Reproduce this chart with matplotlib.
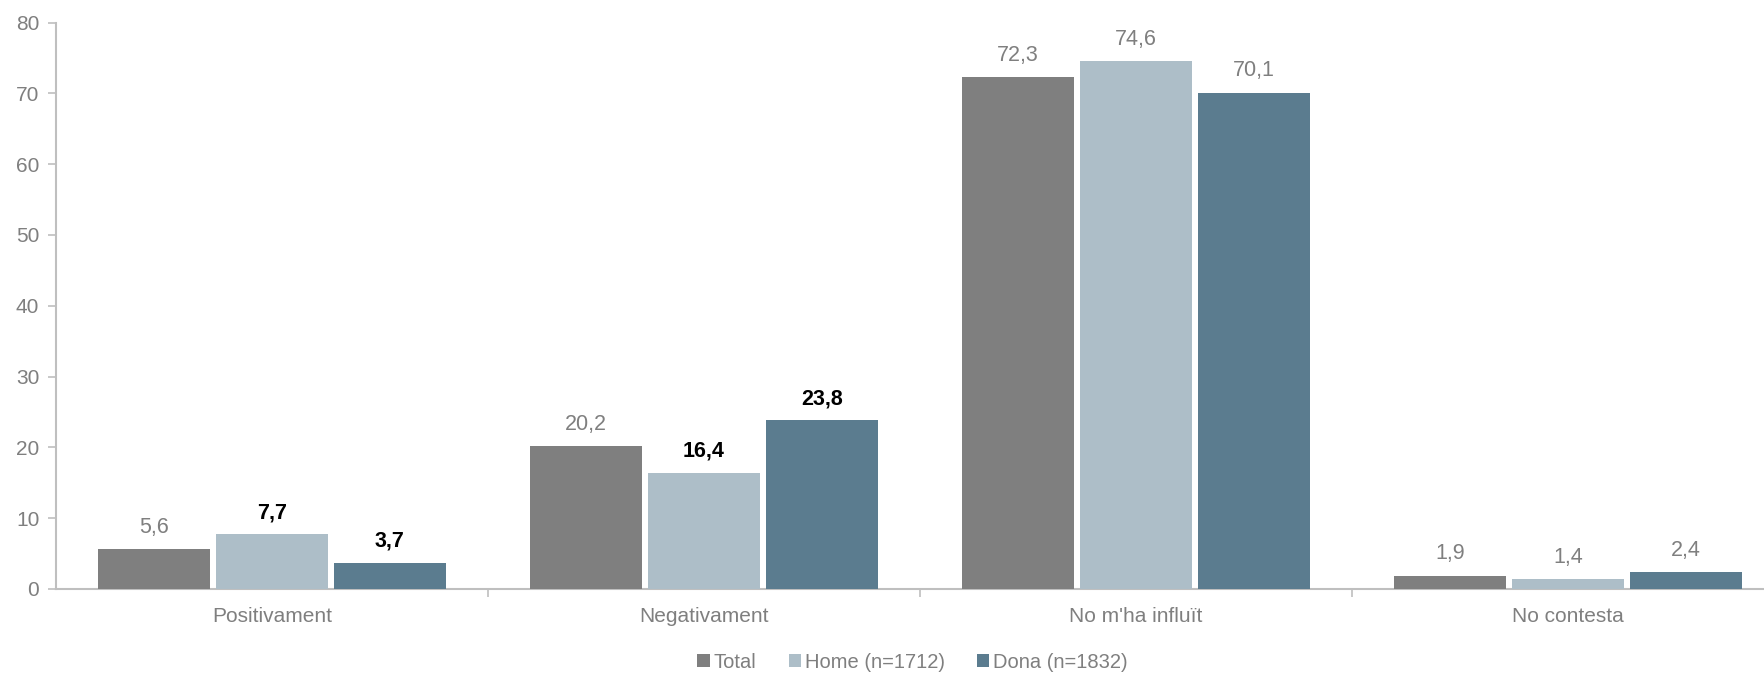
import matplotlib
matplotlib.use("Agg")
import matplotlib.pyplot as plt
import numpy as np

plt.rcParams['font.family'] = ['Liberation Sans', 'DejaVu Sans']

categories = ["Positivament", "Negativament", "No m'ha influït", "No contesta"]
series_names = ["Total", "Home (n=1712)", "Dona (n=1832)"]
total = [5.6, 20.2, 72.3, 1.9]
home = [7.7, 16.4, 74.6, 1.4]
dona = [3.7, 23.8, 70.1, 2.4]
# which labels are highlighted (bold black) in the original
home_bold = [True, True, False, False]
dona_bold = [True, True, False, False]
total_bold = [False, False, False, False]

colors = ["#7f7f7f", "#adbec8", "#5b7c8f"]
label_gray = "#7f7f7f"
axis_gray = "#bfbfbf"

W, H = 1765, 674
fig = plt.figure(figsize=(W / 100, H / 100), dpi=100)
left_px, right_px = 56, 1784
bottom_px, top_px = 589, 22.5
ax = fig.add_axes([left_px / W, 1 - bottom_px / H,
                   (right_px - left_px) / W, (bottom_px - top_px) / H])

x = np.arange(len(categories))
spacing = 0.273
width = 0.26
all_series = [total, home, dona]
all_bold = [total_bold, home_bold, dona_bold]
for i, (vals, col, name, bolds) in enumerate(zip(all_series, colors, series_names, all_bold)):
    pos = x + (i - 1) * spacing
    ax.bar(pos, vals, width=width, color=col, label=name, zorder=3)
    for p, v, b in zip(pos, vals, bolds):
        txt = f"{v:.1f}".replace(".", ",")
        ax.annotate(txt, (p, v), xytext=(0, 8), textcoords="offset points",
                    ha="center", va="bottom", fontsize=15.5,
                    color="black" if b else label_gray,
                    fontweight="bold" if b else "normal")

ax.set_xlim(-0.5, len(categories) - 0.5)
ax.set_ylim(0, 80)
ax.set_yticks(np.arange(0, 81, 10))
ax.set_xticks(x)
ax.set_xticklabels(categories)
ax.set_xticks(np.arange(0.5, len(categories) - 0.5, 1), minor=True)
ax.tick_params(axis="x", which="major", length=0, pad=13, labelsize=15, labelcolor=label_gray)
ax.tick_params(axis="x", which="minor", length=6, color=axis_gray, width=1.2)
ax.tick_params(axis="y", length=6, color=axis_gray, width=1.2, labelsize=15,
               labelcolor=label_gray, pad=6)
for s in ["top", "right"]:
    ax.spines[s].set_visible(False)
for s in ["left", "bottom"]:
    ax.spines[s].set_color(axis_gray)
    ax.spines[s].set_linewidth(1.5)

fig.legend(loc="center", bbox_to_anchor=(0.517, 1 - 662 / H), ncol=3,
           frameon=False, fontsize=14.5, handlelength=0.6, handleheight=0.6,
           handletextpad=0.2, columnspacing=1.6, labelcolor=label_gray)

fig.savefig("out.png", dpi=100)
